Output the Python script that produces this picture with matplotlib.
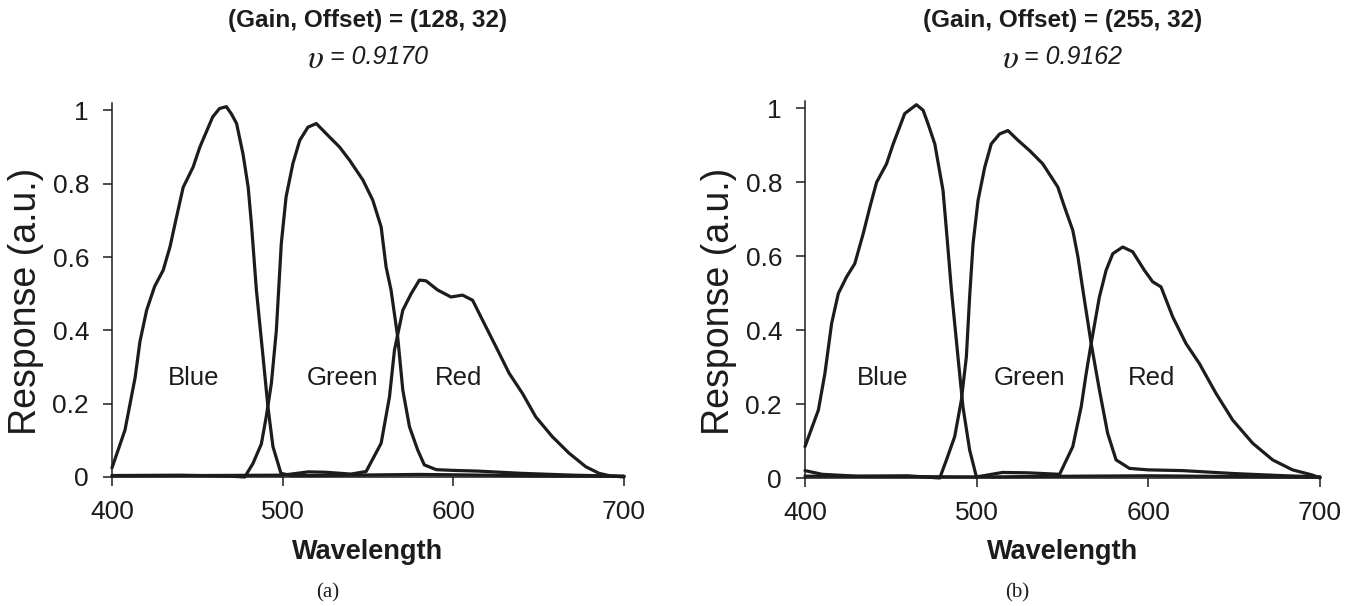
import numpy as np
import matplotlib
matplotlib.use("Agg")
import matplotlib.pyplot as plt

plt.rcParams['font.family'] = ['Liberation Sans', 'DejaVu Sans']

INK = '#1c1c1c'

# ---- panel (a): gain 128, offset 32 ----
a_blue_wl = [400, 407.6, 413.5, 416.4, 420.3, 425, 430, 434, 437.8, 441.7, 447.5, 451.5, 459, 463,
             467, 470, 473, 476.8, 479.8, 481.7, 484.6, 488.5, 491.4, 494.3, 499, 505, 520, 540,
             560, 580, 600, 620, 650, 700]
a_blue = [0.025, 0.128, 0.27, 0.37, 0.455, 0.52, 0.564, 0.628, 0.709, 0.79, 0.845, 0.90, 0.982, 1.005,
          1.01, 0.99, 0.964, 0.88, 0.79, 0.69, 0.51, 0.328, 0.19, 0.083, 0.01, 0.004, 0.004, 0.005,
          0.006, 0.007, 0.006, 0.005, 0.003, 0.002]

a_green_wl = [400, 440, 470, 477.8, 482.6, 487.5, 490.4, 493.4, 496.3, 499.2, 502, 506, 510, 514.8,
              519.7, 527.5, 533.3, 539.2, 547, 552.8, 557.7, 560.6, 563.5, 567.4, 570.4, 574.3,
              579.1, 583, 590, 600, 615, 640, 670, 700]
a_green = [0.004, 0.005, 0.002, 0.0, 0.037, 0.09, 0.165, 0.256, 0.40, 0.637, 0.764, 0.855, 0.918, 0.954,
           0.964, 0.927, 0.90, 0.864, 0.81, 0.755, 0.682, 0.573, 0.51, 0.382, 0.237, 0.137,
           0.074, 0.033, 0.02, 0.018, 0.016, 0.01, 0.005, 0.002]

a_red_wl = [400, 450, 500, 515, 525, 540, 548.9, 557.7, 562.6, 565.5, 570.4, 575.3, 580.1, 584, 590.8,
            598.6, 605.4, 611.3, 617.1, 625, 632.7, 640.5, 648.3, 658, 667.8, 677.6, 685.4, 692, 700]
a_red = [0.003, 0.004, 0.005, 0.014, 0.013, 0.008, 0.015, 0.092, 0.219, 0.346, 0.455, 0.50, 0.537, 0.535, 0.51,
         0.491, 0.496, 0.482, 0.428, 0.355, 0.283, 0.228, 0.164, 0.11, 0.065, 0.028, 0.01, 0.003, 0.0]

# ---- panel (b): gain 255, offset 32 ----
b_blue_wl = [400, 407.8, 411.6, 415.5, 419.4, 424.2, 429, 433.9, 437.8, 441.7, 447.5, 451.4, 458.1, 464.9,
             468.8, 471.7, 475.6, 480.4, 482.4, 485.3, 489.1, 492, 495.9, 499.8, 510, 530, 560, 600,
             650, 700]
b_blue = [0.085, 0.184, 0.283, 0.418, 0.499, 0.544, 0.58, 0.661, 0.733, 0.80, 0.85, 0.904, 0.986, 1.01,
          0.995, 0.958, 0.904, 0.778, 0.67, 0.508, 0.328, 0.193, 0.076, 0.004, 0.003, 0.004, 0.005, 0.006,
          0.004, 0.002]

b_green_wl = [400, 410, 430, 460, 478.5, 482.4, 487.2, 491.1, 494, 495.9, 497.9, 500.8, 504.7, 508.5,
              513.4, 518.2, 524, 530.8, 538.5, 547.3, 551.2, 556, 559, 561.9, 566.7, 571.5, 576.3,
              581.2, 589, 600, 620, 650, 680, 700]
b_green = [0.02, 0.01, 0.005, 0.006, 0.0, 0.049, 0.112, 0.211, 0.328, 0.49, 0.634, 0.751, 0.841, 0.904,
           0.931, 0.94, 0.914, 0.886, 0.85, 0.787, 0.733, 0.67, 0.598, 0.508, 0.364, 0.238, 0.121,
           0.049, 0.026, 0.022, 0.02, 0.012, 0.006, 0.003]

b_red_wl = [400, 450, 500, 515, 530, 548.3, 556, 560.9, 563.8, 566.7, 571.5, 575.4, 579.3, 585.1, 590.9,
            597.7, 602.5, 607.4, 614.2, 621.9, 629.7, 639.4, 649.1, 660.8, 672.4, 684, 695.6, 700]
b_red = [0.005, 0.004, 0.003, 0.015, 0.014, 0.01, 0.085, 0.193, 0.283, 0.364, 0.49, 0.562, 0.607, 0.625, 0.612,
         0.562, 0.531, 0.517, 0.436, 0.364, 0.31, 0.229, 0.157, 0.094, 0.049, 0.022, 0.008, 0.0]

panels = [
    dict(gain_offset='(128, 32)', upsilon='0.9170', tag='(a)',
         curves=[(a_blue_wl, a_blue), (a_green_wl, a_green), (a_red_wl, a_red)],
         label_x=[448, 535, 603]),
    dict(gain_offset='(255, 32)', upsilon='0.9162', tag='(b)',
         curves=[(b_blue_wl, b_blue), (b_green_wl, b_green), (b_red_wl, b_red)],
         label_x=[445, 531, 602]),
]
channel_names = ['Blue', 'Green', 'Red']
yticks = [0, 0.2, 0.4, 0.6, 0.8, 1]
ytick_labels = ['0', '0.2', '0.4', '0.6', '0.8', '1']
xticks = [400, 500, 600, 700]

W, H = 1355, 606
fig = plt.figure(figsize=(W / 100, H / 100), dpi=100)

axes_px = [(112, 624, 477, 103), (805, 1320, 478, 101)]  # left, right, bottom, top (pixels)
tag_x = [328, 1017]

for p, (l, r, b, t), tx in zip(panels, axes_px, tag_x):
    ax = fig.add_axes([l / W, 1 - b / H, (r - l) / W, (b - t) / H])
    for wl, resp in p['curves']:
        ax.plot(wl, resp, color=INK, lw=2.3, solid_joinstyle='round', solid_capstyle='round', clip_on=False)
    ax.set_xlim(400, 700)
    ax.set_ylim(0, 1.02)
    ax.set_xticks(xticks)
    ax.set_yticks(yticks)
    ax.set_yticklabels(ytick_labels)
    for s in ['top', 'right']:
        ax.spines[s].set_visible(False)
    for s in ['left', 'bottom']:
        ax.spines[s].set_linewidth(1.1)
        ax.spines[s].set_color(INK)
    ax.tick_params(axis='both', direction='out', length=6.5, width=1.1, color=INK,
                   labelsize=19, labelcolor=INK)
    ax.tick_params(axis='x', pad=10)
    ax.tick_params(axis='y', pad=10)

    for name, x in zip(channel_names, p['label_x']):
        ax.text(x, 0.27, name, fontsize=18.5, color=INK, ha='center', va='center')

    cx = (l + r) / 2
    fig.text(cx / W, 1 - 20 / H, '(Gain, Offset) = ' + p['gain_offset'], fontsize=17.5,
             fontweight='bold', color=INK, ha='center', va='center')
    fig.text((cx - 44) / W, 1 - 59 / H, r'$\upsilon$', fontsize=24, math_fontfamily='stix',
             color=INK, ha='right', va='center')
    fig.text((cx - 38) / W, 1 - 57 / H, '= ' + p['upsilon'], fontsize=18,
             fontstyle='italic', color=INK, ha='left', va='center')
    fig.text(cx / W, 1 - 552 / H, 'Wavelength', fontsize=19.5, fontweight='bold',
             color=INK, ha='center', va='center')
    fig.text((l - 86) / W, 1 - 301 / H, 'Response (a.u.)', fontsize=27, rotation=90,
             color=INK, ha='center', va='center')
    fig.text(tx / W, 1 - 593 / H, p['tag'], fontsize=15, family='Liberation Serif',
             color=INK, ha='center', va='center')

fig.savefig('out.png', dpi=100, facecolor='white')
